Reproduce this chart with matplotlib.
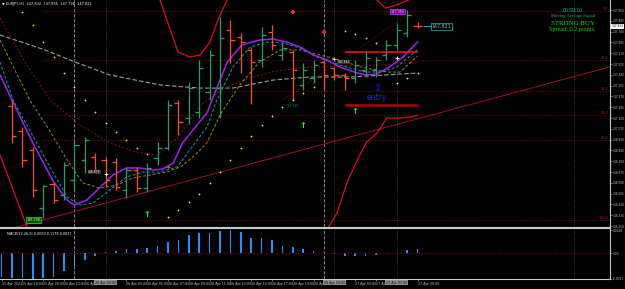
import matplotlib.pyplot as plt
from matplotlib.transforms import blended_transform_factory

# EURJPY H1 bars (index 0..39)
bar_open = [147.195, 146.998, 146.849, 146.392, 146.581, 146.494, 146.613, 146.770, 146.793, 146.770,
            146.754, 146.534, 146.691, 146.549, 146.786, 146.864, 147.218, 147.100, 147.148, 147.305,
            147.336, 147.793, 147.738, 147.636, 147.557, 147.777, 147.596, 147.620, 147.360, 147.415,
            147.541, 147.494, 147.439, 147.415, 147.478, 147.478, 147.596, 147.675, 147.769, 147.825]
bar_high = [147.242, 147.030, 146.872, 146.573, 146.597, 146.754, 146.927, 146.951, 146.825, 146.793,
            146.786, 146.715, 146.715, 146.746, 146.911, 147.242, 147.242, 147.384, 147.557, 147.636,
            147.895, 147.872, 147.769, 147.659, 147.817, 147.832, 147.698, 147.636, 147.533, 147.557,
            147.557, 147.502, 147.454, 147.557, 147.636, 147.580, 147.714, 147.848, 147.950, 147.856]
bar_low = [146.904, 146.715, 146.479, 146.310, 146.431, 146.455, 146.534, 146.668, 146.668, 146.557,
           146.534, 146.471, 146.518, 146.518, 146.730, 146.849, 146.967, 147.053, 147.100, 147.242,
           147.100, 147.533, 147.454, 147.211, 147.502, 147.636, 147.557, 147.242, 147.321, 147.376,
           147.321, 147.399, 147.321, 147.376, 147.423, 147.423, 147.557, 147.636, 147.738, 147.809]
bar_close = [146.959, 146.770, 146.534, 146.565, 146.455, 146.730, 146.888, 146.927, 146.691, 146.613,
             146.557, 146.691, 146.549, 146.707, 146.864, 147.203, 147.069, 147.336, 147.494, 147.596,
             147.730, 147.714, 147.698, 147.541, 147.754, 147.675, 147.651, 147.478, 147.478, 147.517,
             147.439, 147.439, 147.415, 147.517, 147.573, 147.557, 147.675, 147.793, 147.911, 147.821]
bar_idx = list(range(len(bar_open)))

# moving averages (bar position, price)
ma_purple_x = [-1.15, 0, 2, 4, 5.3, 6, 7.2, 8.5, 9.7, 11, 12.3, 13.6, 14.5, 15.5, 16.4, 17.4, 18.75,
               19.5, 20.7, 22.1, 23.8, 25.1, 26.4, 27.7, 29, 30.3, 31.5, 33.2, 34.1, 35.1, 36.3, 37.6, 39]
ma_purple_y = [147.439, 147.242, 146.904, 146.597, 146.455, 146.416, 146.455, 146.557, 146.652, 146.707,
               146.707, 146.691, 146.699, 146.746, 146.904, 147.006, 147.140, 147.297, 147.541, 147.675,
               147.714, 147.722, 147.698, 147.659, 147.596, 147.557, 147.502, 147.454, 147.439, 147.447,
               147.502, 147.580, 147.698]
ma_cyan_x = [-1.15, 0.1, 3.65, 5.3, 6.5, 7.8, 9.4, 11, 12.6, 14.2, 15.9, 17.1, 18.75, 19.7, 21.25,
             22.9, 24.5, 26.1, 27.7, 29.3, 30.9, 32.5, 34.1, 35.4, 37, 39]
ma_cyan_y = [147.541, 147.242, 146.715, 146.479, 146.416, 146.431, 146.534, 146.636, 146.675, 146.675,
             146.715, 146.849, 147.030, 147.242, 147.502, 147.659, 147.698, 147.690, 147.651, 147.580,
             147.533, 147.494, 147.462, 147.462, 147.502, 147.636]
ma_olive_x = [-1.15, 1.7, 3.4, 5.3, 6.8, 8.5, 10.1, 11.6, 13.3, 14.9, 16.2, 17.4, 18.75, 20, 21.9,
              23.8, 25.8, 27.7, 29.6, 31.5, 33.5, 36.1, 37.3, 39]
ma_olive_y = [147.714, 147.242, 147.030, 146.770, 146.589, 146.549, 146.573, 146.628, 146.652, 146.675,
              146.715, 146.793, 146.904, 147.124, 147.360, 147.541, 147.636, 147.636, 147.596, 147.557,
              147.502, 147.462, 147.462, 147.588]
ma_maroon_x = [-1.15, 1.25, 3.65, 6.54, 9.42, 11.83, 13.94, 16.15, 18.08, 20.19, 22.21, 24.81,
               27.69, 31.54, 35.38, 39]
ma_maroon_y = [147.887, 147.541, 147.242, 147.045, 146.904, 146.833, 146.809, 146.967, 147.203, 147.321,
               147.399, 147.462, 147.494, 147.510, 147.517, 147.541]
ma_gray_x = [-1.15, 3.17, 6.06, 9.42, 14.23, 18.08, 21.25, 25.1, 28.65, 32.5, 39]
ma_gray_y = [147.754, 147.636, 147.541, 147.439, 147.360, 147.336, 147.336, 147.399, 147.423, 147.423, 147.454]

# envelope / band pieces (red)
env_up1_x = [14.23, 15.96, 17.1, 18.08, 19.04, 19.8, 20.67]
env_up1_y = [148.029, 147.620, 147.580, 147.596, 147.698, 147.872, 148.029]
env_up2_x = [35.1, 35.9, 37.0, 38.1]
env_up2_y = [148.029, 147.966, 147.990, 148.029]
env_lo1_x = [-1.15, 1.44]
env_lo1_y = [146.809, 146.243]
env_lo2_x = [30.4, 31.25, 32.2, 33.2, 34.1, 35.1, 36.06, 37.3, 38.3, 39]
env_lo2_y = [146.235, 146.353, 146.589, 146.770, 146.911, 146.982, 147.100, 147.100, 147.108, 147.124]

# parabolic SAR dots
sar_x = [1, 2, 3, 4, 5, 6, 7, 8, 9, 10, 11, 12, 13, 15, 16, 17, 18, 19, 20, 21, 22, 23, 24, 25,
         26, 27, 28, 29, 32, 33, 34, 35, 37, 38, 39]
sar_y = [147.935, 147.832, 147.698, 147.580, 147.454, 147.344, 147.242, 147.148, 147.061, 146.990,
         146.927, 146.864, 146.817, 146.321, 146.376, 146.439, 146.502, 146.589, 146.675, 146.770,
         146.864, 146.959, 147.045, 147.116, 147.187, 147.242, 147.297, 147.344, 147.785, 147.761,
         147.730, 147.691, 147.376, 147.415, 147.454]

# trend line, fibonacci, trade levels
trend_p1 = (3, 146.298)
trend_p2 = (39, 147.094)
diag_x = [26.06, 38.46]
diag_y = [147.242, 147.935]
fib_high = 147.943
fib_low = 146.298
fib_ratios = [0.0, 23.6, 38.2, 50.0, 61.8, 100.0]
entry_level = 147.620
stop_level = 147.203
buy_x = [13, 28, 33]
buy_y = [146.337, 147.045, 147.148]
sell_x = [27, 30]
sell_y = [147.935, 147.777]

vline_light = [6, 30]
vline_dark = [9, 31, 37, 54]

price_ticks = [147.950, 147.865, 147.780, 147.695, 147.610, 147.525, 147.440, 147.355, 147.270, 147.185,
               147.100, 147.015, 146.930, 146.845, 146.760, 146.675, 146.590, 146.505, 146.420, 146.335, 146.250]

# MACD histogram (index -1..39)
macd_idx = list(range(-1, 40))
macd_vals = [-0.0028, -0.00292, -0.00292, -0.00308, -0.00292, -0.0028, -0.00208, -0.00148, -0.0008, -0.00032,
             0.00012, 0.00028, 0.00048, 0.00052, 0.0006, 0.00092, 0.0014, 0.0016, 0.0022, 0.0024,
             0.0024, 0.00272, 0.0028, 0.00252, 0.00188, 0.0018, 0.0016, 0.00088, 0.0008, 0.00052,
             0.00028, 0.00004, -0.00004, -0.00032, -0.00032, -0.00032, -0.0002, -0.00004, 0.00008, 0.0004,
             0.00052]

time_ticks = [-1, 1, 3, 5, 7, 11, 13, 15, 17, 19, 21, 23, 25, 27, 29, 33, 35, 39]
time_labels = ["25 Apr 2023", "25 Apr 18:00", "25 Apr 20:00", "25 Apr 22:00", "26 Apr 00:00",
               "26 Apr 03:00", "26 Apr 05:00", "26 Apr 07:00", "26 Apr 09:00",
               "26 Apr 11:00", "26 Apr 13:00", "26 Apr 15:00", "26 Apr 17:00", "26 Apr 19:00",
               "26 Apr 21:00", "27 Apr 03:00", "27 Apr 05:00", "27 Apr 09:00"]
box_ticks = [9, 31, 37]
box_labels = ["26 Apr 02:00", "26 Apr 23:00", "27 Apr 07:00"]

GREEN = '#2e9c6a'
ORANGE = '#ff5020'
AXC = '#c8c8c8'

fig = plt.figure(figsize=(6.25, 2.89), dpi=100, facecolor='black')
ax = fig.add_axes([0, 62 / 289, 610 / 625, 227 / 289], facecolor='black')
axm = fig.add_axes([0, 10 / 289, 610 / 625, 51 / 289], facecolor='black')

XL = (-1.154, 57.5)
ax.set_xlim(*XL)
ax.set_ylim(146.2425, 148.029)

# separators
for v in vline_light:
    for a in (ax, axm):
        a.axvline(v, color='#a898a8', lw=0.6, dashes=(4, 2))
for v in vline_dark:
    for a in (ax, axm):
        a.axvline(v, color='#505050', lw=0.6, ls=':')

# fibonacci levels
fib_levels = [fib_high - r / 100 * (fib_high - fib_low) for r in fib_ratios]
ax.hlines(fib_levels, trend_p1[0], XL[1], colors='#8b0000', lw=0.7, linestyles=':')
tr = blended_transform_factory(ax.transAxes, ax.transData)
for r, lv in zip(fib_ratios, fib_levels):
    ax.text(0.997, lv, f"{r:.1f}", transform=tr, ha='right', va='bottom', fontsize=2.4, color='#b02020')

# trend line and diagonal
ax.axline(trend_p1, trend_p2, color='#a01020', lw=0.7)
ax.plot(diag_x, diag_y, color='#8b0000', lw=0.7, ls=':')

# moving averages
ax.plot(ma_gray_x, ma_gray_y, color='#a0a0a0', lw=0.8, dashes=(4, 2))
ax.plot(ma_maroon_x, ma_maroon_y, color='#8b1010', lw=0.7, dashes=(2, 2))
ax.plot(ma_olive_x, ma_olive_y, color='#9a8a20', lw=0.7, dashes=(3, 2))
ax.plot(ma_cyan_x, ma_cyan_y, color='#00a8b0', lw=0.7, dashes=(3, 2))
ax.plot(ma_purple_x, ma_purple_y, color='#a020f0', lw=1.1)

# envelopes
for ex, ey in [(env_up1_x, env_up1_y), (env_up2_x, env_up2_y), (env_lo1_x, env_lo1_y), (env_lo2_x, env_lo2_y)]:
    ax.plot(ex, ey, color='#e01010', lw=0.9)

# OHLC bars
cols = [GREEN if c >= o else ORANGE for o, c in zip(bar_open, bar_close)]
ax.vlines(bar_idx, bar_low, bar_high, colors=cols, lw=0.9)
ax.hlines(bar_open, [i - 0.4 for i in bar_idx], bar_idx, colors=cols, lw=0.9)
ax.hlines(bar_close, bar_idx, [i + 0.4 for i in bar_idx], colors=cols, lw=0.9)

# SAR
ax.scatter(sar_x, sar_y, s=1.6, color='#ffff00', linewidths=0, zorder=4)

# signals
for bx, by in zip(buy_x, buy_y):
    ax.text(bx, by, "↑", color='#20ff20', fontsize=6, fontweight='bold', ha='center', va='center')
ax.scatter(sell_x, sell_y, marker='P', s=6, color='#ff2020', linewidths=0, zorder=4)
ax.plot(15, 146.715, marker='+', color=ORANGE, ms=2.5, mew=0.6)

# trade levels
ax.hlines(entry_level, 32, 39, color='#ff1010', lw=1.1)
ax.hlines(stop_level, 32, 39, color='#b00000', lw=1.8)
ax.text(35.1, 147.336, "⇧", color='#1030ff', fontsize=7, ha='center', va='center')
ax.text(35.1, 147.262, "entry", color='#1030ff', fontsize=5.5, ha='center', va='center')

# price labels
last = bar_close[-1]
ax.hlines(last, 39.5, 40.4, color='#30c0c0', lw=0.6)
ax.text(41.3, last, f"{last:.3f}", color='#40e0e0', fontsize=3.4, ha='center', va='center',
        bbox=dict(boxstyle='square,pad=0.15', fc='black', ec='#20a0a0', lw=0.6))
ax.text(37.1, 147.935, f"{max(bar_high):.3f}", color='#f0c0ff', fontsize=2.4, ha='center', va='center',
        bbox=dict(boxstyle='square,pad=0.15', fc='#8000a0', ec='#c040ff', lw=0.5))
ax.text(2.1, fib_low, f"{fib_low:.3f}", color='#c0ffc0', fontsize=2.4, ha='center', va='center',
        bbox=dict(boxstyle='square,pad=0.2', fc='#005000', ec='#00ff00', lw=0.5))
ax.text(7.9, 146.675, "146.675", color='white', fontsize=2.2, ha='center', va='center',
        bbox=dict(boxstyle='square,pad=0.1', fc='#303030', ec='none'))
ax.text(31.9, 147.541, "147.541", color='white', fontsize=2.2, ha='center', va='center',
        bbox=dict(boxstyle='square,pad=0.1', fc='#303030', ec='none'))
ax.plot([9, 31, 37], [146.660, 147.565, 147.573], ls='none', marker='+', color='white', ms=2.5, mew=0.6)
ax.text(27, 147.195, "147.195", color='#208080', fontsize=2.2, ha='center', va='center')

# header texts
ax.text(0.004, 0.99, "▼ EURJPY,H1  147.832  147.855  147.798  147.821", transform=ax.transAxes,
        fontsize=2.5, color='white', va='top')
serif = 'Liberation Serif'
fig.text(573 / 625, 1 - 10 / 289, "00:59:10", color='#10d0e0', fontsize=4.0, family=serif, ha='center', va='center')
fig.text(573 / 625, 1 - 15.7 / 289, "Moving Average Signal", color='#30b060', fontsize=3.3, family=serif, ha='center', va='center')
fig.text(573 / 625, 1 - 23.3 / 289, "STRONG BUY", color='#00f000', fontsize=5.0, family=serif, ha='center', va='center')
fig.text(572 / 625, 1 - 29.5 / 289, "Spread: 0.2 points.", color='#00e000', fontsize=4.4, family=serif, ha='center', va='center')

# axes styling
ax.set_xticks([])
ax.yaxis.tick_right()
ax.set_yticks(price_ticks)
ax.set_yticklabels([f"{p:.3f}" for p in price_ticks])
ax.tick_params(axis='y', labelsize=2.1, colors=AXC, length=1.2, width=0.4, pad=0.6)
ax.text(1.002, last, f"{last:.3f}", transform=tr, fontsize=2.1, color='black', va='center', ha='left',
        bbox=dict(boxstyle='square,pad=0.2', fc='white', ec='none'))
for s in ['left', 'top']:
    ax.spines[s].set_visible(False)
for s in ['bottom', 'right']:
    ax.spines[s].set_color(AXC)
    ax.spines[s].set_linewidth(0.8)

# MACD panel
axm.set_xlim(*XL)
axm.set_ylim(-0.00308, 0.00304)
axm.bar(macd_idx, macd_vals, width=0.16, color='#1e90ff')
axm.axhline(0, color='#8b0000', lw=0.8, ls=':')
axm.text(0.012, 0.93, "MACD(12,26,9) 0.0030 0.1179 0.0037", transform=axm.transAxes,
         fontsize=2.4, color='white', va='top')
axm.yaxis.tick_right()
axm.set_yticks([0.0028, 0.0, -0.00308])
axm.set_yticklabels(["0.0028", "0.00", "-0.0031"])
axm.tick_params(axis='y', labelsize=2.1, colors=AXC, length=1.2, width=0.4, pad=0.6)
axm.set_xticks(time_ticks)
axm.set_xticklabels(time_labels, ha='left')
axm.tick_params(axis='x', labelsize=2.3, colors=AXC, length=1.5, width=0.4, pad=1)
trm = blended_transform_factory(axm.transData, axm.transAxes)
for b, lab in zip(box_ticks, box_labels):
    axm.text(b, -0.03, lab, transform=trm, ha='center', va='top', fontsize=2.3, color='black',
             bbox=dict(boxstyle='square,pad=0.25', fc='#909090', ec='none'))
axm.spines['left'].set_visible(False)
for s in ['bottom', 'right', 'top']:
    axm.spines[s].set_color(AXC)
    axm.spines[s].set_linewidth(0.8)

fig.savefig('out.png', dpi=100, facecolor='black')
